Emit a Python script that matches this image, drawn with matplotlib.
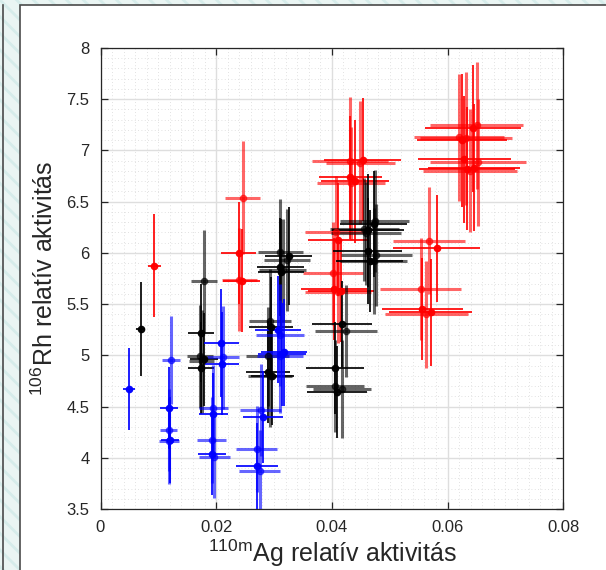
import matplotlib
matplotlib.use('Agg')
from matplotlib import pyplot as plt
from matplotlib.patches import Rectangle
from matplotlib.lines import Line2D
from matplotlib.ticker import MultipleLocator, FuncFormatter

# --- data ---
red_x = [0.0093, 0.0246, 0.0239, 0.0240, 0.0244, 0.0431, 0.0453, 0.0449, 0.0432,
         0.0433, 0.0440, 0.0407, 0.0411, 0.0402, 0.0404, 0.0410, 0.0415, 0.0568,
         0.0581, 0.0554, 0.0556, 0.0563, 0.0571, 0.0650, 0.0644, 0.0620, 0.0625,
         0.0632, 0.0629, 0.0653, 0.0633, 0.0639, 0.0646]
red_y = [5.875, 6.54, 6.00, 5.74, 5.73, 6.90, 6.91, 6.88, 6.74, 6.68, 6.70, 6.20,
         6.13, 5.80, 5.645, 5.62, 5.63, 6.12, 6.045, 5.65, 5.45, 5.40, 5.42, 7.245,
         7.215, 7.13, 7.10, 7.12, 6.915, 6.885, 6.82, 6.80, 6.83]
red_xerr = [0.0011, 0.0030, 0.0030, 0.0030, 0.0032, 0.0066, 0.0066, 0.0060, 0.0054,
            0.0058, 0.0058, 0.0053, 0.0053, 0.0052, 0.0057, 0.0057, 0.0057, 0.0062,
            0.0075, 0.0070, 0.0070, 0.0072, 0.0072, 0.0081, 0.0083, 0.0078, 0.0078,
            0.0080, 0.0081, 0.0083, 0.0083, 0.0081, 0.0080]
red_yerr = [0.50, 0.55, 0.50, 0.50, 0.50, 0.62, 0.60, 0.60, 0.60, 0.55, 0.60, 0.55,
            0.55, 0.50, 0.50, 0.50, 0.50, 0.52, 0.52, 0.50, 0.50, 0.52, 0.52, 0.62,
            0.62, 0.62, 0.65, 0.65, 0.62, 0.62, 0.60, 0.60, 0.62]

black_x = [0.00695, 0.0179, 0.0174, 0.0172, 0.0179, 0.0175, 0.0174, 0.0311, 0.0325,
           0.0322, 0.0311, 0.0315, 0.0312, 0.0293, 0.0295, 0.0289, 0.0289, 0.0293,
           0.0297, 0.0474, 0.0472, 0.0456, 0.0463, 0.0459, 0.0462, 0.0477, 0.0465,
           0.0472, 0.0417, 0.0424, 0.0405, 0.0405, 0.0409, 0.0417]
black_y = [5.257, 5.726, 5.22, 4.99, 4.96, 4.94, 4.88, 6.01, 5.97, 5.93, 5.86, 5.83,
           5.81, 5.34, 5.28, 4.99, 4.84, 4.80, 4.80, 6.31, 6.28, 6.23, 6.22, 6.19,
           6.02, 5.98, 5.92, 5.92, 5.31, 5.24, 4.88, 4.70, 4.645, 4.67]
black_xerr = [0.0008, 0.0022, 0.0022, 0.0022, 0.0024, 0.0022, 0.0022, 0.0039, 0.0041,
              0.0040, 0.0040, 0.0041, 0.0040, 0.0037, 0.0038, 0.0037, 0.0038, 0.0038,
              0.0037, 0.0060, 0.0058, 0.0060, 0.0062, 0.0060, 0.0060, 0.0062, 0.0058,
              0.0058, 0.0052, 0.0054, 0.0050, 0.0050, 0.0052, 0.0050]
black_yerr = [0.46, 0.50, 0.48, 0.50, 0.45, 0.50, 0.45, 0.52, 0.48, 0.50, 0.48, 0.50,
              0.52, 0.50, 0.48, 0.48, 0.50, 0.50, 0.48, 0.50, 0.52, 0.50, 0.55, 0.50,
              0.52, 0.50, 0.50, 0.52, 0.42, 0.45, 0.45, 0.45, 0.45, 0.48]

blue_x = [0.0049, 0.0122, 0.0118, 0.0118, 0.0120, 0.0118, 0.0209, 0.0212, 0.0210,
          0.0195, 0.0195, 0.0192, 0.0193, 0.0197, 0.0307, 0.0310, 0.0317, 0.0310,
          0.0314, 0.0277, 0.0281, 0.0270, 0.0270, 0.0275]
blue_y = [4.67, 4.955, 4.49, 4.27, 4.17, 4.16, 5.12, 4.98, 4.92, 4.49, 4.43, 4.17,
          4.04, 4.005, 5.25, 5.20, 5.03, 4.99, 5.01, 4.47, 4.40, 4.085, 3.92, 3.87]
blue_xerr = [0.0010, 0.0016, 0.0016, 0.0015, 0.0016, 0.0017, 0.0030, 0.0028, 0.0030,
             0.0025, 0.0025, 0.0025, 0.0024, 0.0026, 0.0040, 0.0042, 0.0040, 0.0040,
             0.0042, 0.0035, 0.0035, 0.0035, 0.0036, 0.0036]
blue_yerr = [0.40, 0.43, 0.40, 0.40, 0.42, 0.42, 0.53, 0.50, 0.50, 0.42, 0.40, 0.42,
             0.40, 0.40, 0.52, 0.50, 0.52, 0.55, 0.50, 0.45, 0.45, 0.42, 0.42, 0.40]

x_ticks = [0, 0.02, 0.04, 0.06, 0.08]
y_ticks = [3.5, 4, 4.5, 5, 5.5, 6, 6.5, 7, 7.5, 8]

plt.rcParams['font.family'] = ['Liberation Sans', 'DejaVu Sans']
plt.rcParams['mathtext.fontset'] = 'custom'
plt.rcParams['mathtext.rm'] = 'Liberation Sans'
plt.rcParams['hatch.linewidth'] = 2.0

W, H = 606, 570
fig = plt.figure(figsize=(W / 100, H / 100), dpi=100)
fig.patch.set_facecolor('#eaf5f3')

# window-like frame around the plot
fig.add_artist(Rectangle((0, 0), 1, 1, transform=fig.transFigure, facecolor='#eaf5f3',
                         edgecolor='#d6ecea', hatch='\\\\', lw=0, zorder=-3))
fig.add_artist(Rectangle((19.5 / W, -0.01), 1, 1 - 5 / H + 0.01, transform=fig.transFigure,
                         facecolor='white', edgecolor='#4a4a4a', lw=1.2, zorder=-2))
fig.add_artist(Line2D([3 / W, 3 / W], [0, 1 - 5 / H], transform=fig.transFigure,
                      color='#4a4a4a', lw=1.2))

ax = fig.add_axes([100.5 / W, 1 - 509 / H, 462.8 / W, 461 / H])
ax.set_facecolor('white')

for xs, ys, xe, ye, col in [(red_x, red_y, red_xerr, red_yerr, '#ff0000'),
                            (black_x, black_y, black_xerr, black_yerr, '#000000'),
                            (blue_x, blue_y, blue_xerr, blue_yerr, '#0000ff')]:
    for i in range(len(xs)):
        a = 0.6 if i % 2 else 0.95
        lw = 2.2 if i % 2 else 1.3
        ax.errorbar(xs[i], ys[i], xerr=xe[i], yerr=ye[i], fmt='o', color=col,
                    ms=4.5, mec=col, elinewidth=lw, capsize=0, alpha=a, zorder=3)

ax.set_xlim(0, 0.08)
ax.set_ylim(3.5, 8)
ax.set_xticks(x_ticks)
ax.set_yticks(y_ticks)
ax.xaxis.set_major_formatter(FuncFormatter(lambda v, p: '%g' % v))
ax.yaxis.set_major_formatter(FuncFormatter(lambda v, p: '%g' % v))
ax.xaxis.set_minor_locator(MultipleLocator(0.002))
ax.yaxis.set_minor_locator(MultipleLocator(0.1))

ax.set_axisbelow(True)
ax.grid(which='major', color='#dedede', lw=1.0)
ax.grid(which='minor', color='#d8d8d8', lw=0.6, linestyle=(0, (1, 3)))
ax.tick_params(which='major', direction='in', top=True, right=True, length=5,
               width=0.9, labelsize=12, colors='#262626', pad=8)
ax.tick_params(which='minor', length=0)
for s in ax.spines.values():
    s.set_color('#262626')
    s.set_linewidth(0.9)

ax.set_xlabel(r'$^{\mathrm{110m}}$Ag relatív aktivitás', fontsize=18, color='#262626',
              labelpad=2)
ax.set_ylabel(r'$^{\mathrm{106}}$Rh relatív aktivitás', fontsize=18, color='#262626',
              labelpad=6)

fig.savefig('out.png', dpi=100, facecolor=fig.get_facecolor())
